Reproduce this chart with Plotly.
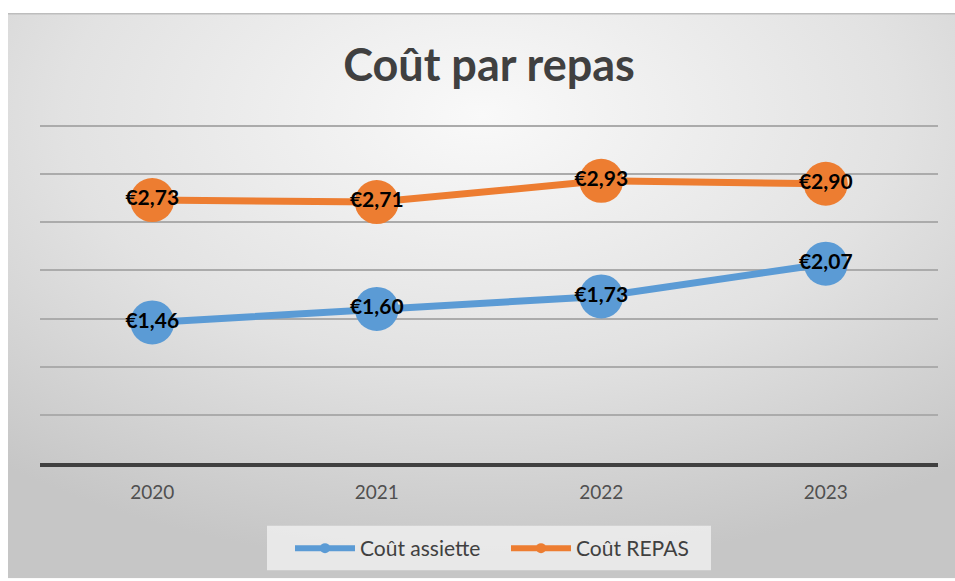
import base64
import plotly.graph_objects as go

years = ["2020", "2021", "2022", "2023"]
cout_assiette = [1.46, 1.60, 1.73, 2.07]
cout_repas = [2.73, 2.71, 2.93, 2.90]
series_names = ["Coût assiette", "Coût REPAS"]
colors = ["#5B9BD5", "#ED7D31"]

W, H = 955, 581
L, R, T, B = 40, 17, 122, 116
pw, ph = W - L - R, H - T - B
y_top = 3.5 * ph / 339.0

svg = (
    '<svg xmlns="http://www.w3.org/2000/svg" width="100" height="100" viewBox="0 0 100 100" preserveAspectRatio="none">'
    '<defs><radialGradient id="g" cx="0.5" cy="0.18" r="0.8" fx="0.5" fy="0.18">'
    '<stop offset="0" stop-color="#f9f9f9"/><stop offset="0.55" stop-color="#e2e2e2"/>'
    '<stop offset="1" stop-color="#c6c6c6"/></radialGradient></defs>'
    '<rect x="0" y="0" width="100" height="100" fill="url(#g)"/></svg>'
)
src = "data:image/svg+xml;base64," + base64.b64encode(svg.encode()).decode()


def px2x(px):
    return (px - L) / pw


def py2y(py):
    return (H - B - py) / ph


fig = go.Figure()
for name, vals, c in zip(series_names, [cout_assiette, cout_repas], colors):
    fig.add_trace(go.Scatter(
        x=years, y=vals, mode="lines+markers+text", name=name, showlegend=False,
        line=dict(color=c, width=7),
        marker=dict(color=c, size=44),
        texttemplate="€%{y:.2f}", textposition="middle center",
        textfont=dict(family="Lato", size=21, color="black", weight="bold"),
        cliponaxis=False,
    ))
for name, c in zip(series_names, colors):
    fig.add_trace(go.Scatter(
        x=[None], y=[None], mode="lines+markers", name=name,
        line=dict(color=c, width=6), marker=dict(color=c, size=10),
    ))

fig.add_layout_image(dict(
    source=src, xref="paper", yref="paper",
    x=px2x(8), y=py2y(13), sizex=px2x(955) - px2x(8), sizey=py2y(13) - py2y(581),
    xanchor="left", yanchor="top", sizing="stretch", layer="below",
))
fig.add_shape(type="line", xref="paper", yref="paper",
              x0=px2x(8), x1=px2x(955), y0=py2y(13), y1=py2y(13),
              line=dict(color="#bdbdbd", width=1.5))
fig.add_shape(type="rect", xref="paper", yref="paper", layer="below",
              x0=px2x(267), x1=px2x(711), y0=py2y(528), y1=py2y(573),
              fillcolor="rgba(243,243,243,0.75)", line=dict(width=0))

fig.update_layout(
    width=W, height=H,
    margin=dict(l=L, r=R, t=T, b=B),
    paper_bgcolor="white", plot_bgcolor="rgba(0,0,0,0)",
    separators=", ",
    title=dict(text="<b>Coût par repas</b>", x=0.5, xref="paper", xanchor="center",
               y=1 - 65 / H, yanchor="middle",
               font=dict(family="Lato", size=45, color="#404040")),
    xaxis=dict(type="category", range=[-0.5, 3.5], showline=True, linecolor="#404040",
               linewidth=4, showgrid=False, ticks="outside", ticklen=9,
               tickcolor="rgba(0,0,0,0)",
               tickfont=dict(family="Lato", size=19, color="#505050")),
    yaxis=dict(range=[0, y_top], tick0=0, dtick=0.5, showgrid=True, gridcolor="#ababab",
               gridwidth=2, zeroline=False, showticklabels=False),
    legend=dict(orientation="h", x=px2x(506), xanchor="center", y=py2y(551), yanchor="middle",
                bgcolor="rgba(0,0,0,0)", borderwidth=0,
                font=dict(family="Lato", size=21, color="#404040"),
                itemwidth=60, entrywidth=141),
    showlegend=True,
)

fig.write_html("out.html", config={"displayModeBar": False},
               post_script="document.body.style.margin='0';")
